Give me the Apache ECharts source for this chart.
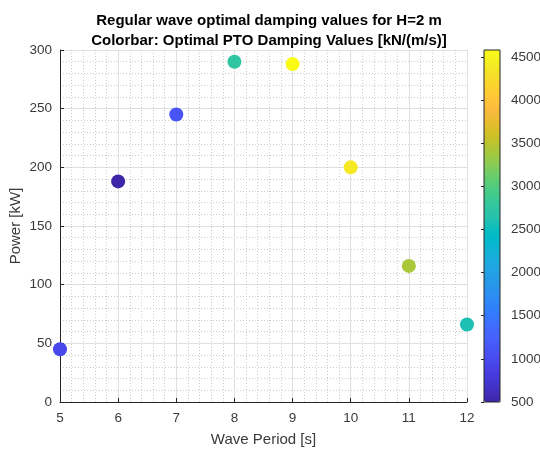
<!DOCTYPE html>
<html>
<head>
<meta charset="utf-8">
<script src="https://cdn.jsdelivr.net/npm/echarts@6/dist/echarts.min.js"></script>
<style>
  html, body { margin: 0; padding: 0; background: #ffffff; }
  #chart { width: 540px; height: 451px; }
</style>
</head>
<body>
<div id="chart"></div>
<script>
// Wave periods [s]
const wavePeriods = [5, 6, 7, 8, 9, 10, 11, 12];
// Absorbed power [kW]
const powerKW = [45, 188, 245, 290, 288, 200, 116, 66];
// Optimal PTO damping [kN/(m/s)]
const dampingValues = [950, 500, 1100, 2740, 4580, 4390, 3410, 2600];
// Colour bar range and tick labels
const dampingMin = 500;
const dampingMax = 4580;
const colorbarTicks = [500, 1000, 1500, 2000, 2500, 3000, 3500, 4000, 4500];

// parula colormap (64 entries)
const parula = [
  [0.2422,0.1504,0.6603],[0.2504,0.1650,0.7076],[0.2578,0.1818,0.7511],[0.2647,0.1978,0.7952],
  [0.2706,0.2147,0.8364],[0.2751,0.2342,0.8710],[0.2783,0.2559,0.8991],[0.2803,0.2782,0.9221],
  [0.2813,0.3006,0.9414],[0.2810,0.3228,0.9579],[0.2795,0.3447,0.9717],[0.2760,0.3667,0.9829],
  [0.2699,0.3892,0.9906],[0.2602,0.4123,0.9952],[0.2440,0.4358,0.9988],[0.2206,0.4603,0.9973],
  [0.1963,0.4847,0.9892],[0.1834,0.5074,0.9798],[0.1786,0.5289,0.9682],[0.1764,0.5499,0.9520],
  [0.1687,0.5703,0.9359],[0.1540,0.5902,0.9218],[0.1460,0.6091,0.9079],[0.1380,0.6276,0.8973],
  [0.1248,0.6459,0.8883],[0.1113,0.6635,0.8763],[0.0952,0.6798,0.8598],[0.0689,0.6948,0.8394],
  [0.0297,0.7082,0.8163],[0.0036,0.7203,0.7917],[0.0067,0.7312,0.7660],[0.0433,0.7411,0.7394],
  [0.0964,0.7500,0.7120],[0.1408,0.7584,0.6842],[0.1717,0.7670,0.6554],[0.1938,0.7758,0.6251],
  [0.2161,0.7843,0.5923],[0.2470,0.7918,0.5567],[0.2906,0.7973,0.5188],[0.3406,0.8008,0.4789],
  [0.3909,0.8029,0.4354],[0.4456,0.8024,0.3909],[0.5044,0.7993,0.3480],[0.5616,0.7942,0.3045],
  [0.6174,0.7876,0.2612],[0.6720,0.7793,0.2227],[0.7242,0.7698,0.1910],[0.7738,0.7598,0.1646],
  [0.8203,0.7498,0.1535],[0.8634,0.7406,0.1596],[0.9035,0.7330,0.1774],[0.9393,0.7288,0.2100],
  [0.9728,0.7298,0.2394],[0.9956,0.7434,0.2371],[0.9970,0.7659,0.2199],[0.9952,0.7893,0.2028],
  [0.9892,0.8136,0.1885],[0.9786,0.8386,0.1766],[0.9676,0.8639,0.1643],[0.9610,0.8890,0.1537],
  [0.9597,0.9135,0.1423],[0.9628,0.9373,0.1265],[0.9691,0.9606,0.1064],[0.9769,0.9839,0.0805]
];
const parulaHex = parula.map(c => '#' + c.map(v => Math.round(v * 255).toString(16).padStart(2, '0')).join(''));

const points = wavePeriods.map((t, i) => [t, powerKW[i], dampingValues[i]]);

const axisColor = '#262626';
const labelColor = '#3a3a3a';
const font = '"Liberation Sans", Arial, Helvetica, sans-serif';
const majorGrid = { show: true, lineStyle: { color: '#dfdfdf', width: 1, type: 'solid' } };
const minorGrid = { show: true, lineStyle: { color: '#cccccc', width: 1, type: [1, 2] } };

const chart = echarts.init(document.getElementById('chart'), null, { renderer: 'canvas' });
chart.setOption({
  backgroundColor: '#ffffff',
  animation: false,
  title: {
    text: 'Regular wave optimal damping values for H=2 m\nColorbar: Optimal PTO Damping Values [kN/(m/s)]',
    left: 264,
    textAlign: 'center',
    top: 6,
    textStyle: { fontFamily: font, fontSize: 15, fontWeight: 'bold', color: '#000000', lineHeight: 20 }
  },
  grid: [
    { left: 60, right: 73, top: 50, bottom: 49, containLabel: false, outerBoundsMode: 'none' },
    { left: 484, width: 16, top: 50, height: 352, containLabel: false, outerBoundsMode: 'none',
      show: true, borderColor: axisColor, borderWidth: 1, backgroundColor: 'transparent', z: 10 }
  ],
  xAxis: [
    {
      gridIndex: 0, type: 'value', min: 5, max: 12, interval: 1,
      name: 'Wave Period [s]', nameLocation: 'middle', nameGap: 30,
      nameTextStyle: { fontFamily: font, fontSize: 15, color: labelColor },
      axisLine: { show: true, onZero: false, lineStyle: { color: axisColor, width: 1 } },
      axisTick: { show: true, inside: true, length: 4, lineStyle: { color: axisColor } },
      axisLabel: { fontFamily: font, fontSize: 13.5, color: labelColor, margin: 9 },
      splitLine: majorGrid,
      minorTick: { show: false, splitNumber: 5 },
      minorSplitLine: minorGrid
    },
    {
      gridIndex: 1, type: 'value', min: 0, max: 1, show: false
    }
  ],
  yAxis: [
    {
      gridIndex: 0, type: 'value', min: 0, max: 300, interval: 50,
      name: 'Power [kW]', nameLocation: 'middle', nameGap: 37, nameMoveOverlap: false,
      nameTextStyle: { fontFamily: font, fontSize: 15, color: labelColor },
      axisLine: { show: true, onZero: false, lineStyle: { color: axisColor, width: 1 } },
      axisTick: { show: true, inside: true, length: 4, lineStyle: { color: axisColor } },
      axisLabel: { fontFamily: font, fontSize: 13.5, color: labelColor, margin: 8 },
      splitLine: majorGrid,
      minorTick: { show: false, splitNumber: 5 },
      minorSplitLine: minorGrid
    },
    {
      gridIndex: 1, type: 'value', position: 'right',
      min: dampingMin, max: dampingMax, interval: colorbarTicks[1] - colorbarTicks[0],
      axisLine: { show: false },
      axisTick: { show: true, inside: true, length: 3, lineStyle: { color: axisColor } },
      axisLabel: { fontFamily: font, fontSize: 13.5, color: labelColor, margin: 11, showMaxLabel: false,
        formatter: v => colorbarTicks.includes(v) ? String(v) : '' },
      splitLine: { show: false },
      z: 12
    }
  ],
  visualMap: {
    type: 'continuous',
    seriesIndex: 0,
    dimension: 2,
    min: dampingMin,
    max: dampingMax,
    inRange: { color: parulaHex },
    calculable: false,
    text: null,
    showLabel: false,
    left: 484,
    top: 50,
    padding: 0,
    itemWidth: 16,
    itemHeight: 352,
    realtime: false,
    hoverLink: false
  },
  series: [
    {
      type: 'scatter',
      xAxisIndex: 0,
      yAxisIndex: 0,
      data: points,
      symbol: 'circle',
      symbolSize: 14,
      itemStyle: { opacity: 1 },
      z: 5
    }
  ]
});
</script>
</body>
</html>
